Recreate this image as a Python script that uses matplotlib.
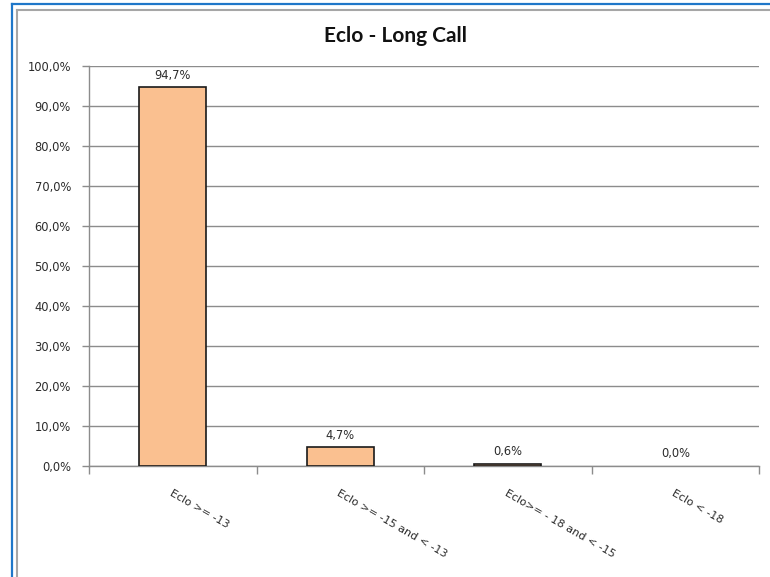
import matplotlib
matplotlib.use("Agg")
import matplotlib.pyplot as plt
from matplotlib.lines import Line2D
from matplotlib.ticker import FuncFormatter, FixedLocator

categories = ["Eclo >= -13", "Eclo >= -15 and < -13", "Eclo>= - 18 and < -15", "Eclo < -18"]
values = [94.7, 4.7, 0.6, 0.0]
y_ticks = [0, 10, 20, 30, 40, 50, 60, 70, 80, 90, 100]

W, H = 770, 577
fig = plt.figure(figsize=(W / 100, H / 100), dpi=100)

# frame lines around the chart area
blue = "#1f77c9"
grey = "#a6a6a6"
def px_line(x0, y0, x1, y1, color, lw):
    fig.add_artist(Line2D([x0 / W, x1 / W], [1 - y0 / H, 1 - y1 / H],
                          color=color, lw=lw, transform=fig.transFigure))
px_line(12, 4, W, 4, blue, 1.6)
px_line(12, 4, 12, H, blue, 1.6)
px_line(16.5, 10, W, 10, grey, 1.5)
px_line(16.5, 10, 16.5, H, grey, 1.5)

left, right, top, bottom = 89, 759, 66, 466
ax = fig.add_axes([left / W, 1 - bottom / H, (right - left) / W, (bottom - top) / H])

x = list(range(len(categories)))
edge = ["#1a1a1a" if v > 0 else "none" for v in values]
bars = ax.bar(x, values, width=0.4, color="#fac090", edgecolor=edge, linewidth=1.2, zorder=3)

text_color = "#2b2b2b"
for xi, v in zip(x, values):
    ax.annotate(f"{v:.1f}%".replace(".", ","), (xi, v), xytext=(0, 4), textcoords="offset points",
                ha="center", va="bottom", fontsize=8.3, color=text_color, zorder=4)

ax.set_xlim(-0.5, len(categories) - 0.5)
ax.set_ylim(0, 100)
ax.set_yticks(y_ticks)
ax.yaxis.set_major_formatter(FuncFormatter(lambda v, p: f"{v:.1f}%".replace(".", ",")))
ax.yaxis.grid(True, color="#8c8c8c", linewidth=1.0, zorder=0)
ax.set_axisbelow(True)

# major ticks at category boundaries, labels on minor ticks at centres
ax.xaxis.set_major_locator(FixedLocator([i - 0.5 for i in range(len(categories) + 1)]))
ax.xaxis.set_major_formatter(FuncFormatter(lambda v, p: ""))
ax.xaxis.set_minor_locator(FixedLocator(x))
ax.set_xticklabels(categories, minor=True)
ax.tick_params(axis="x", which="major", length=6, color="#8c8c8c", width=1.0)
ax.tick_params(axis="x", which="minor", length=0, pad=16)
ax.tick_params(axis="y", length=5, color="#8c8c8c", width=1.0, labelsize=8.3,
               labelcolor=text_color, pad=8)
for lbl in ax.get_xticklabels(minor=True):
    lbl.set_rotation(-30)
    lbl.set_rotation_mode("anchor")
    lbl.set_ha("left")
    lbl.set_va("top")
    lbl.set_fontsize(8)
    lbl.set_color(text_color)

for s in ["top", "right"]:
    ax.spines[s].set_visible(False)
for s in ["left", "bottom"]:
    ax.spines[s].set_color("#8c8c8c")
    ax.spines[s].set_linewidth(1.0)

fig.text(395 / W, 1 - 36 / H, "Eclo - Long Call", ha="center", va="center",
         fontsize=15, fontweight="bold", family="Lato", color="#111111")

fig.savefig("out.png", dpi=100, facecolor="white")
